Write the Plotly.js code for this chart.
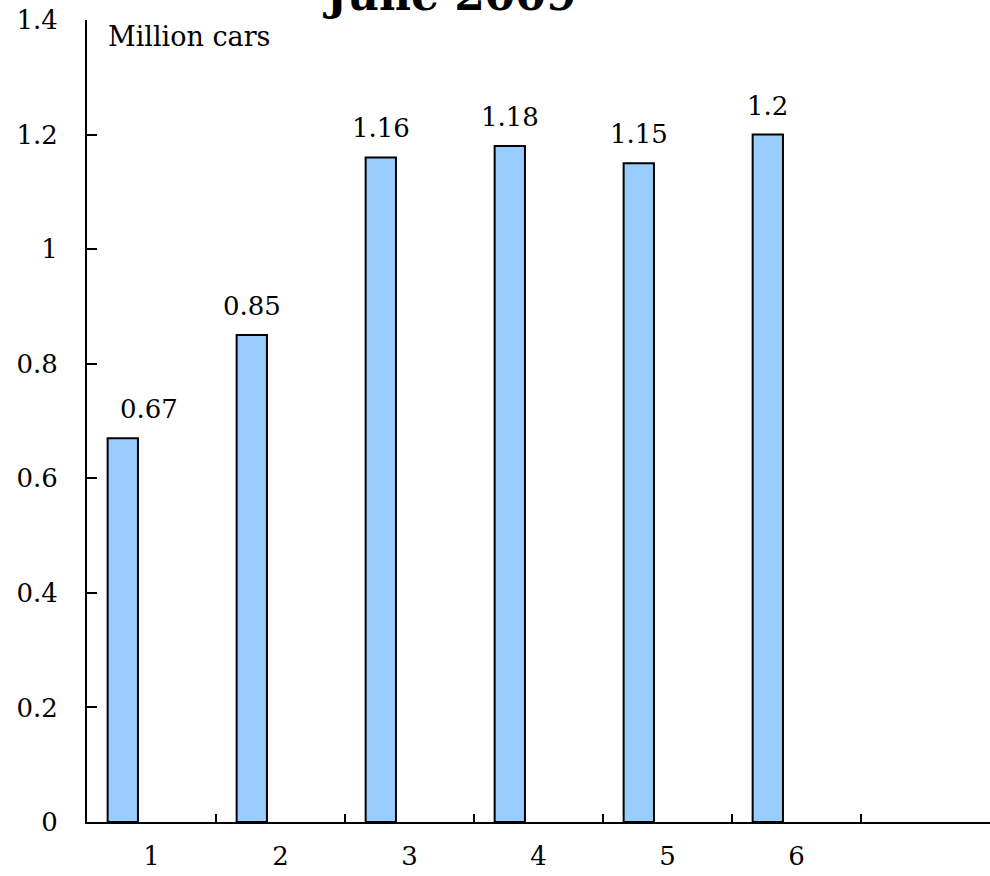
<!DOCTYPE html>
<html>
<head>
<meta charset="utf-8">
<script src="https://cdn.plot.ly/plotly-3.0.1.min.js"></script>
<style>html,body{margin:0;padding:0;background:#fff;}#chart{width:990px;height:876px;}</style>
</head>
<body>
<div id="chart"></div>
<script>
// Data
const categories = ['1', '2', '3', '4', '5', '6'];
const xPositions = [1, 2, 3, 4, 5, 6];
const values = [0.67, 0.85, 1.16, 1.18, 1.15, 1.2];
const valueLabels = ['0.67', '0.85', '1.16', '1.18', '1.15', '1.2'];
const yTicks = [0, 0.2, 0.4, 0.6, 0.8, 1, 1.2, 1.4];
const yTickText = ['0', '0.2', '0.4', '0.6', '0.8', '1', '1.2', '1.4'];
const boundaryTicks = [1.5, 2.5, 3.5, 4.5, 5.5, 6.5];
const titleText = 'June 2009';
const unitText = 'Million cars';

const FONT = 'DejaVu Serif, Liberation Serif, serif';
const barWidth = 0.235;
const barOffset = -0.34;
const labelShift = [26, 0, 0, 0, 0, 0];

const trace = {
  type: 'bar',
  x: xPositions,
  y: values,
  width: barWidth,
  offset: barOffset,
  marker: {color: '#99CCFF', line: {color: '#000000', width: 2}},
  hoverinfo: 'skip'
};

const annotations = values.map((v, i) => ({
  x: xPositions[i] + barOffset + barWidth / 2,
  y: v,
  xref: 'x', yref: 'y',
  text: valueLabels[i],
  showarrow: false,
  yanchor: 'bottom',
  xanchor: 'center',
  xshift: labelShift[i],
  yshift: 12,
  font: {family: FONT, size: 26, color: '#000'}
}));
annotations.push({
  x: 0, y: 1, xref: 'paper', yref: 'paper',
  xanchor: 'left', yanchor: 'top',
  xshift: 19, yshift: 1,
  text: unitText, showarrow: false,
  font: {family: FONT, size: 27, color: '#000'}
});

const layout = {
  width: 990, height: 876,
  margin: {l: 87, r: 0, t: 20, b: 54},
  paper_bgcolor: '#fff', plot_bgcolor: '#fff',
  showlegend: false,
  title: {
    text: '<b>' + titleText + '</b>',
    font: {family: FONT, size: 44, color: '#000'},
    xref: 'container', yref: 'container',
    x: 0.456, xanchor: 'center',
    y: 0.989, yanchor: 'bottom'
  },
  xaxis: {
    range: [0.5, 7.5],
    tickmode: 'array', tickvals: boundaryTicks,
    showticklabels: false,
    ticks: 'inside', ticklen: 8, tickwidth: 2, tickcolor: '#000',
    showline: true, linecolor: '#000', linewidth: 2,
    showgrid: false, zeroline: false, fixedrange: true
  },
  xaxis2: {
    overlaying: 'x', anchor: 'y', side: 'bottom',
    range: [0.5, 7.5],
    tickmode: 'array', tickvals: xPositions, ticktext: categories,
    ticks: '', showline: false, showgrid: false, zeroline: false,
    tickfont: {family: FONT, size: 26, color: '#000'},
    ticklabelstandoff: 16
  },
  yaxis: {
    range: [0, 1.4],
    tickmode: 'array', tickvals: yTicks, ticktext: yTickText,
    ticks: 'inside', ticklen: 10, tickwidth: 2, tickcolor: '#000',
    showline: true, linecolor: '#000', linewidth: 2,
    showgrid: false, zeroline: false,
    tickfont: {family: FONT, size: 26, color: '#000'},
    ticklabelstandoff: 22
  },
  annotations: annotations
};

// invisible trace to activate xaxis2 (category labels)
const axisTrace = {type: 'scatter', x: [1], y: [0], xaxis: 'x2', yaxis: 'y', mode: 'markers', marker: {opacity: 0}, hoverinfo: 'skip'};

Plotly.newPlot('chart', [trace, axisTrace], layout, {displayModeBar: false, staticPlot: true});
</script>
</body>
</html>
